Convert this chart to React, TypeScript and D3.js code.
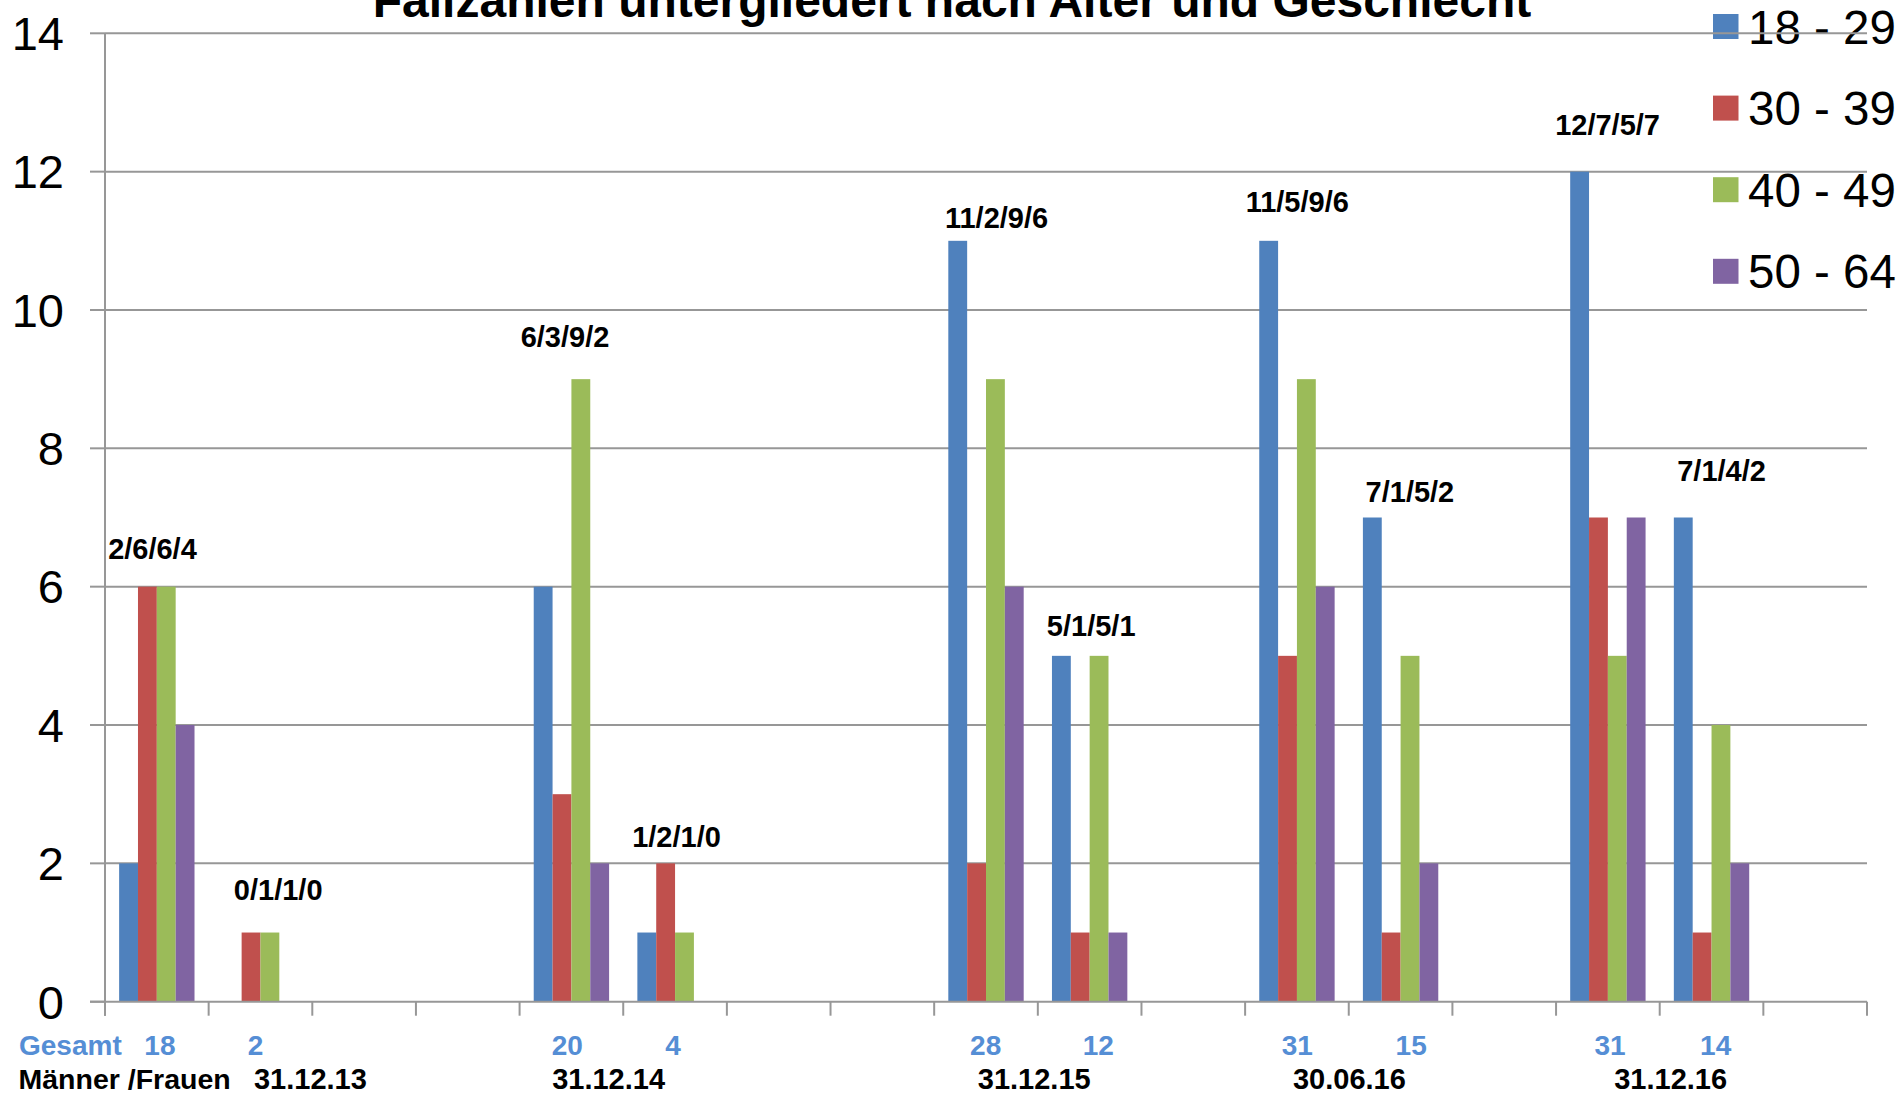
import React from "react";
import * as d3 from "d3";

const title = "Fallzahlen untergliedert nach Alter und Geschlecht";
const seriesNames = ["18 - 29", "30 - 39", "40 - 49", "50 - 64"];
const seriesColors = ["#4F81BD", "#C0504D", "#9BBB59", "#8064A2"];
const categoryIndex = d3.range(17);
const s1829 = [2, 0, null, null, 6, 1, null, null, 11, 5, null, 11, 7, null, 12, 7, null];
const s3039 = [6, 1, null, null, 3, 2, null, null, 2, 1, null, 5, 1, null, 7, 1, null];
const s4049 = [6, 1, null, null, 9, 1, null, null, 9, 5, null, 9, 5, null, 5, 4, null];
const s5064 = [4, 0, null, null, 2, 0, null, null, 6, 1, null, 6, 2, null, 7, 2, null];
const seriesValues = [s1829, s3039, s4049, s5064];
const yTicks = [0, 2, 4, 6, 8, 10, 12, 14];

// annotation anchors (category units / value units)
const labelCats = [0, 1, 4, 5, 8, 9, 11, 12, 14, 15];
const labelX = [0.458, 1.671, 4.438, 5.514, 8.602, 9.515, 11.503, 12.59, 14.497, 15.597];
const labelY = [6.545, 1.616, 9.61, 2.387, 11.34, 5.44, 11.57, 7.38, 12.68, 7.68];
const totals = ["18", "2", "20", "4", "28", "12", "31", "15", "31", "14"];
const totalX = [0.53, 1.452, 4.46, 5.48, 8.497, 9.584, 11.503, 12.602, 14.52, 15.54];
const dates = ["31.12.13", "31.12.14", "31.12.15", "30.06.16", "31.12.16"];
const dateX = [1.982, 4.859, 8.965, 12.006, 15.106];
const rowLabel1 = "Gesamt";
const rowLabel2 = "Männer /Frauen";

const W = 1901;
const H = 1093;
const left = 105;
const right = 1867;
const top = 33.3;
const bottom = 1001.7;
const FONT = "'Liberation Sans', Arial, Helvetica, sans-serif";

export default function App() {
  const x = d3.scaleBand<number>().domain(categoryIndex).range([left, right]).paddingInner(0).paddingOuter(0);
  const bw = x.bandwidth();
  const barW = bw / 5.5;
  const gap = (bw - 4 * barW) / 2;
  const x1 = d3.scaleBand<number>().domain(d3.range(4)).range([gap, gap + 4 * barW]).padding(0);
  const xc = d3.scaleLinear().domain([0, 17]).range([left, right]);
  const y = d3.scaleLinear().domain([0, 14]).range([bottom, top]);
  const gridColor = "#979797";
  const ticksX = d3.range(18).map((i) => xc(i));

  return (
    <svg width={W} height={H} style={{ position: "absolute", left: 0, top: 0, background: "#fff" }} fontFamily={FONT}>
      <rect x={0} y={0} width={W} height={H} fill="#fff" />
      {/* title */}
      <text x={952} y={17} fontSize={48} fontWeight="bold" textAnchor="middle" fill="#000">{title}</text>
      {/* legend */}
      {seriesNames.map((n, i) => (
        <g key={n}>
          <rect x={1713} y={14 + i * 81.6} width={25.5} height={25} fill={seriesColors[i]} />
          <text x={1748} y={26.5 + i * 81.6 + 17} fontSize={47.5} fill="#000">{n}</text>
        </g>
      ))}
      {/* gridlines and y ticks */}
      {yTicks.map((t) => (
        <g key={t}>
          {t > 0 && <line x1={left} x2={right} y1={y(t)} y2={y(t)} stroke={gridColor} strokeWidth={2} />}
          <line x1={90} x2={left} y1={y(t)} y2={y(t)} stroke={gridColor} strokeWidth={2} />
          <text x={64} y={y(t) + 16.8} fontSize={47} textAnchor="end" fill="#000">{t}</text>
        </g>
      ))}
      {/* bars */}
      {categoryIndex.map((c) => (
        <g key={c} transform={`translate(${x(c)},0)`}>
          {seriesValues.map((s, si) => {
            const v = s[c];
            if (v == null || v === 0) return null;
            return (
              <rect key={si} x={x1(si)} y={y(v)} width={x1.bandwidth()} height={y(0) - y(v)} fill={seriesColors[si]} />
            );
          })}
        </g>
      ))}
      {/* axes */}
      <line x1={left} x2={left} y1={top} y2={bottom + 14} stroke={gridColor} strokeWidth={2} />
      <line x1={90} x2={right} y1={bottom} y2={bottom} stroke={gridColor} strokeWidth={2} />
      {ticksX.map((tx, i) => (
        <line key={i} x1={tx} x2={tx} y1={bottom} y2={bottom + 14} stroke={gridColor} strokeWidth={2} />
      ))}
      {/* data labels */}
      {labelCats.map((c, i) => (
        <text key={c} x={xc(labelX[i])} y={y(labelY[i]) + 10.4} fontSize={29} fontWeight="bold" textAnchor="middle" fill="#000">
          {seriesValues.map((s) => s[c] ?? 0).join("/")}
        </text>
      ))}
      {/* bottom rows */}
      <text x={19} y={1055} fontSize={28} fontWeight="bold" fill="#558ED5">{rowLabel1}</text>
      {totals.map((t, i) => (
        <text key={i} x={xc(totalX[i])} y={1055} fontSize={28} fontWeight="bold" textAnchor="middle" fill="#558ED5">{t}</text>
      ))}
      <text x={18.5} y={1089} fontSize={28.5} fontWeight="bold" fill="#000">{rowLabel2}</text>
      {dates.map((d, i) => (
        <text key={d} x={xc(dateX[i])} y={1089} fontSize={29} fontWeight="bold" textAnchor="middle" fill="#000">{d}</text>
      ))}
    </svg>
  );
}
